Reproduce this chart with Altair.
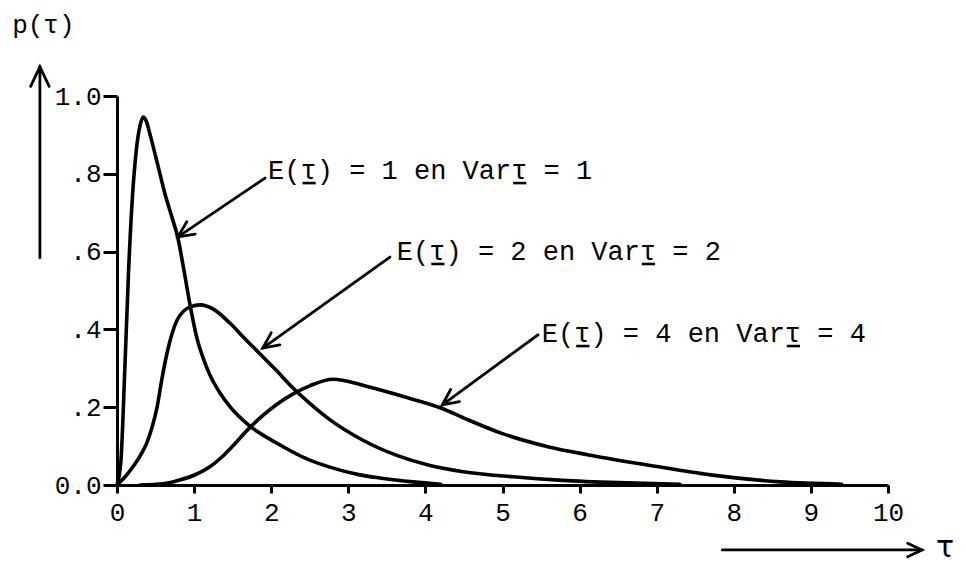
import math
import altair as alt
import pandas as pd

# p(tau) for the three (mean, variance) pairs
tau_1 = [0, 0.05, 0.1, 0.15, 0.2, 0.25, 0.3, 0.34, 0.38, 0.43, 0.52, 0.62, 0.71, 0.79, 0.87,
         0.95, 1.04, 1.12, 1.2, 1.34, 1.47, 1.7, 2.07, 2.5, 2.76, 3.15, 3.41, 3.84, 4.2]
p_1 = [0, 0.06, 0.29, 0.55, 0.74, 0.86, 0.925, 0.946, 0.935, 0.90, 0.83, 0.75, 0.69, 0.635,
       0.55, 0.46, 0.375, 0.325, 0.285, 0.235, 0.20, 0.155, 0.108, 0.064, 0.046, 0.026,
       0.018, 0.008, 0.002]

tau_2 = [0, 0.1, 0.2, 0.3, 0.38, 0.45, 0.52, 0.58, 0.65, 0.78, 0.95, 1.08, 1.25, 1.47, 1.65,
         1.85, 2.05, 2.29, 2.5, 2.76, 3.19, 3.63, 4.06, 4.49, 5.14, 5.78, 6.5, 7.3]
p_2 = [0, 0.02, 0.045, 0.075, 0.105, 0.145, 0.20, 0.27, 0.34, 0.424, 0.458, 0.463, 0.452,
       0.415, 0.378, 0.338, 0.298, 0.248, 0.21, 0.168, 0.115, 0.076, 0.05, 0.034, 0.021,
       0.012, 0.006, 0.002]

tau_3 = [0.3, 0.6, 0.8, 1.0, 1.2, 1.35, 1.5, 1.7, 1.9, 2.07, 2.29, 2.5, 2.8, 3.2, 3.7, 4.2,
         4.5, 5.0, 5.6, 6.1, 6.9, 7.7, 8.6, 9.4]
p_3 = [0, 0.003, 0.012, 0.025, 0.046, 0.07, 0.10, 0.143, 0.18, 0.207, 0.235, 0.255, 0.272,
       0.256, 0.228, 0.198, 0.172, 0.132, 0.098, 0.078, 0.051, 0.026, 0.008, 0.002]

# Axis ticks and their printed labels
x_ticks = [0, 1, 2, 3, 4, 5, 6, 7, 8, 9, 10]
y_ticks = [0, 0.2, 0.4, 0.6, 0.8, 1.0]
y_tick_labels = ["0.0", ".2", ".4", ".6", ".8", "1.0"]

# Curve annotations: text, text anchor, arrow start and arrow tip (data units)
labels = ["E(τ) = 1 en Varτ = 1", "E(τ) = 2 en Varτ = 2", "E(τ) = 4 en Varτ = 4"]
label_tau = [1.96, 3.63, 5.51]
label_p = [0.807, 0.599, 0.388]
arrow_from_tau = [1.92, 3.54, 5.46]
arrow_from_p = [0.789, 0.586, 0.386]
arrow_to_tau = [0.79, 1.89, 4.22]
arrow_to_p = [0.638, 0.352, 0.206]

W, H = 771, 389          # plot area in pixels
X_MAX, Y_MAX = 10.0, 1.0
PX_T = W / X_MAX         # pixels per tau unit
PX_P = H / Y_MAX         # pixels per p unit
FONT = "Liberation Mono"
FONT_SIZE = 27
CHAR_W = 0.6 * FONT_SIZE  # monospace advance

curves = pd.concat([
    pd.DataFrame({"tau": tau_1, "p": p_1, "series": "1"}),
    pd.DataFrame({"tau": tau_2, "p": p_2, "series": "2"}),
    pd.DataFrame({"tau": tau_3, "p": p_3, "series": "3"}),
])

x_scale = alt.Scale(domain=[0, X_MAX], nice=False, zero=False)
y_scale = alt.Scale(domain=[0, Y_MAX], nice=False, zero=False)

label_expr = " : ".join(
    f"abs(datum.value - {v}) < 1e-6 ? '{t}'" for v, t in zip(y_ticks, y_tick_labels)
) + " : ''"

lines = alt.Chart(curves).mark_line(
    color="black", strokeWidth=3.6, interpolate="monotone", strokeCap="round"
).encode(
    x=alt.X("tau:Q", scale=x_scale,
            axis=alt.Axis(values=x_ticks, tickSize=8, labelPadding=6, title=None,
                          format="d", labelBaseline="top", labelFlush=False)),
    y=alt.Y("p:Q", scale=y_scale,
            axis=alt.Axis(values=y_ticks, tickSize=14, labelPadding=2, title=None,
                          labelExpr=label_expr, labelFlush=False)),
    detail="series:N",
)


def heading(dx_px, dy_px):
    """Clockwise angle (degrees, from straight up) of a screen direction."""
    return math.degrees(math.atan2(dx_px, -dy_px)) % 360


# Arrows: the three curve pointers, the vertical p arrow and the horizontal tau arrow
a_from_t = arrow_from_tau + [-1.0, 7.85]
a_from_p = arrow_from_p + [0.584, -0.167]
a_to_t = arrow_to_tau + [-1.0, 10.44]
a_to_p = arrow_to_p + [1.075, -0.167]
head_size = [1100, 1100, 1100, 1700, 900]
angles = [
    heading((t2 - t1) * PX_T, -(p2 - p1) * PX_P)
    for t1, p1, t2, p2 in zip(a_from_t, a_from_p, a_to_t, a_to_p)
]
arrows = pd.DataFrame({
    "t1": a_from_t, "p1": a_from_p, "t2": a_to_t, "p2": a_to_p,
    "angle": angles, "size": head_size,
})

shafts = alt.Chart(arrows).mark_rule(color="black", strokeWidth=2.8, strokeCap="round").encode(
    x=alt.X("t1:Q", scale=x_scale), y=alt.Y("p1:Q", scale=y_scale),
    x2="t2:Q", y2="p2:Q",
)

heads = alt.Chart(arrows).mark_point(
    shape="M-0.45,0.95 L0,0 L0.45,0.95", filled=False, color="black",
    strokeWidth=2.8, opacity=1, strokeCap="round", strokeJoin="miter",
).encode(
    x=alt.X("t2:Q", scale=x_scale), y=alt.Y("p2:Q", scale=y_scale),
    angle=alt.Angle("angle:Q", scale=None),
    size=alt.Size("size:Q", scale=None),
)

ann = pd.DataFrame({"text": labels, "tau": label_tau, "p": label_p})

ann_text = alt.Chart(ann).mark_text(
    font=FONT, fontSize=FONT_SIZE, align="left", baseline="middle", color="black"
).encode(
    x=alt.X("tau:Q", scale=x_scale), y=alt.Y("p:Q", scale=y_scale), text="text:N"
)

# Typewriter underscores beneath every tau inside the annotation strings
ul_rows = []
for text, t0, p0 in zip(labels, label_tau, label_p):
    for i, ch in enumerate(text):
        if ch == "τ":
            ul_rows.append({
                "u1": t0 + (i * CHAR_W + 2) / PX_T,
                "u2": t0 + ((i + 1) * CHAR_W - 1) / PX_T,
                "up": p0 - 12 / PX_P,
            })
underlines = alt.Chart(pd.DataFrame(ul_rows)).mark_rule(
    color="black", strokeWidth=2.6
).encode(
    x=alt.X("u1:Q", scale=x_scale), x2="u2:Q", y=alt.Y("up:Q", scale=y_scale)
)

# Axis names: p(tau) above the vertical arrow, tau after the horizontal arrow
names = pd.DataFrame({"text": ["p(τ)"], "tau": [-1.36], "p": [1.162]})
y_name = alt.Chart(names).mark_text(
    font=FONT, fontSize=26, align="left", baseline="alphabetic", color="black"
).encode(
    x=alt.X("tau:Q", scale=x_scale), y=alt.Y("p:Q", scale=y_scale), text="text:N"
)

x_name_df = pd.DataFrame({"text": ["τ"], "tau": [10.74], "p": [-0.162]})
x_name = alt.Chart(x_name_df).mark_text(
    font="DejaVu Sans", fontSize=30, align="center", baseline="middle", color="black"
).encode(
    x=alt.X("tau:Q", scale=x_scale), y=alt.Y("p:Q", scale=y_scale), text="text:N"
)

chart = alt.layer(lines, shafts, heads, ann_text, underlines, y_name, x_name).properties(
    width=W, height=H,
    autosize=alt.AutoSizeParams(type="none"),
    padding={"left": 117, "top": 96, "right": 78, "bottom": 78},
    background="white",
).configure_view(
    stroke=None
).configure_axis(
    grid=False,
    domainColor="black", domainWidth=3,
    tickColor="black", tickWidth=3,
    labelColor="black", labelFont=FONT, labelFontSize=26,
)

chart.save("out.html", embed_options={"renderer": "svg", "actions": False})
